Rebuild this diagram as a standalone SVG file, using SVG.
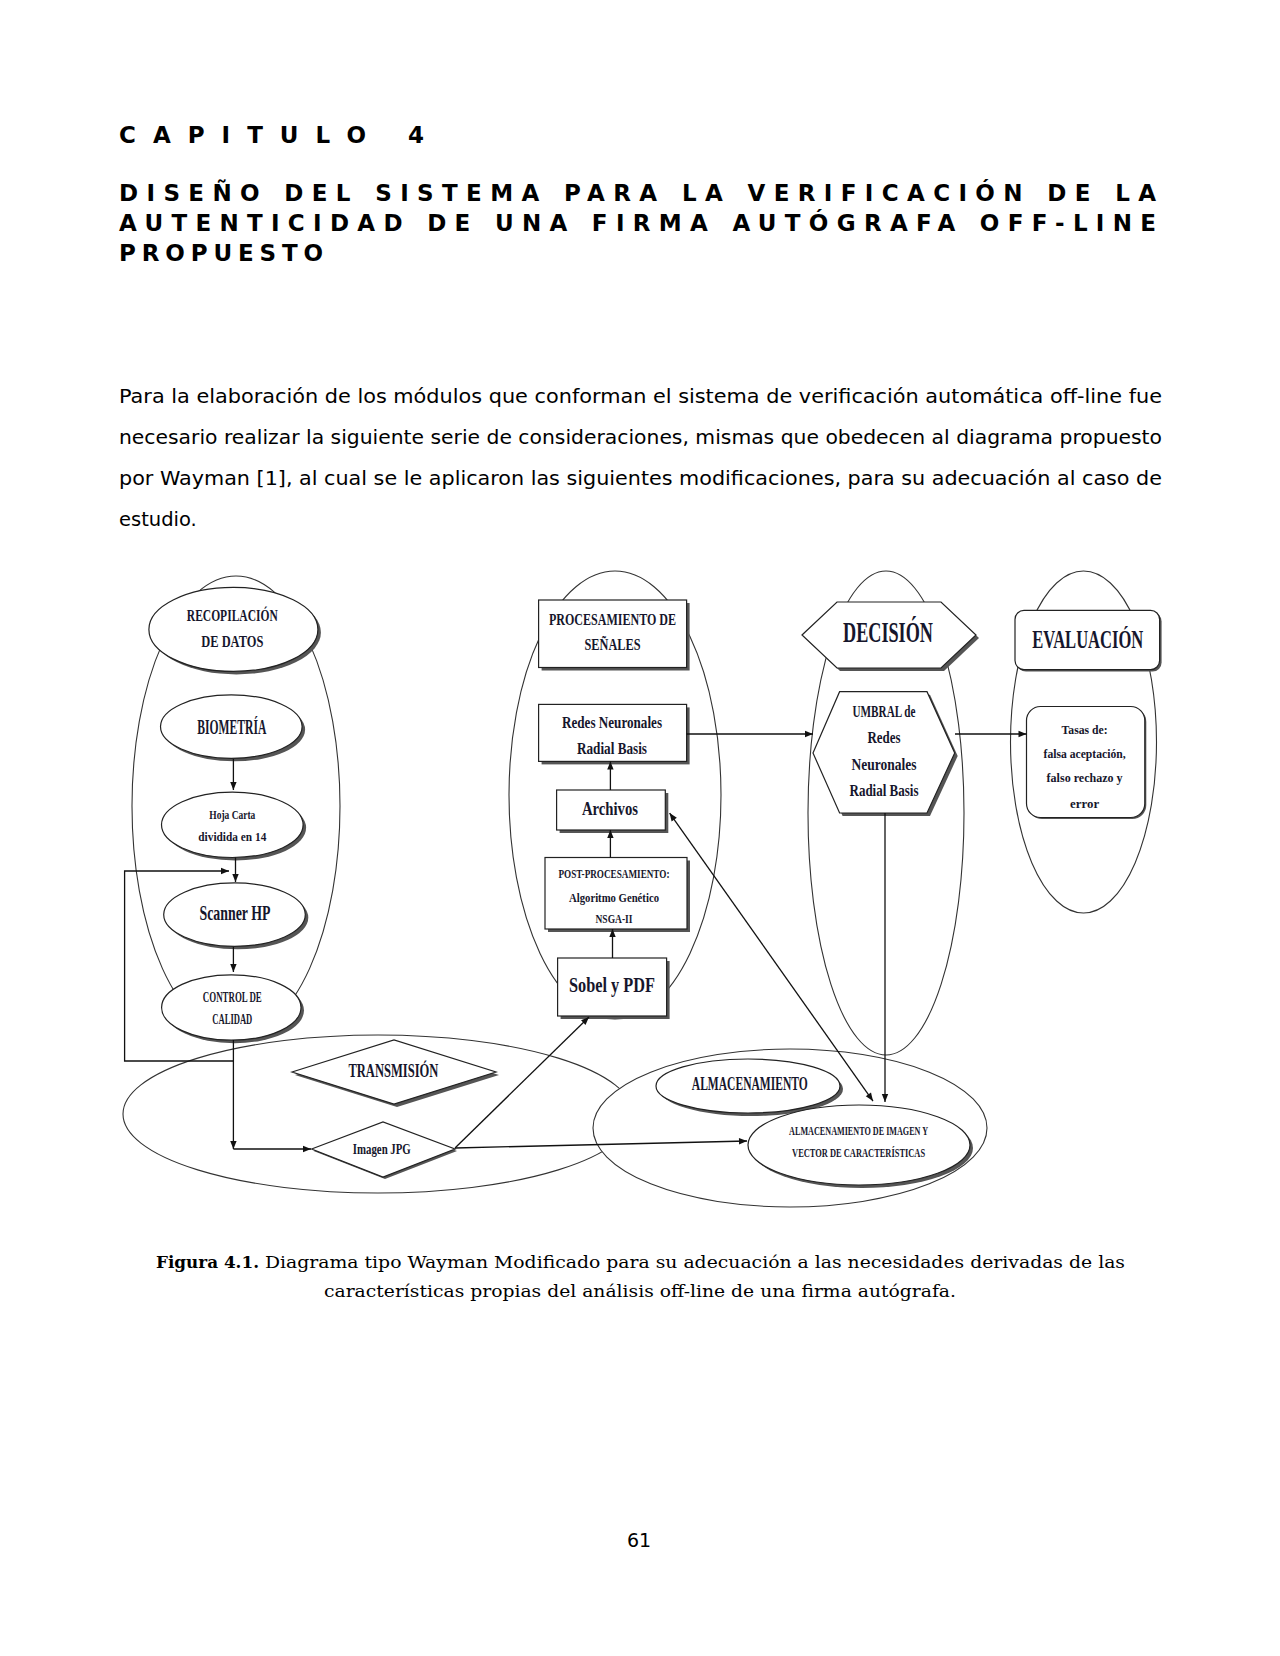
<svg xmlns="http://www.w3.org/2000/svg" width="1280" height="1656" viewBox="0 0 1280 1656">
<style>
.h{font-family:"DejaVu Sans",Verdana,sans-serif;font-weight:bold;font-size:23px;fill:#000}
.p{font-family:"DejaVu Sans",Tahoma,sans-serif;font-size:19.5px;fill:#000}
.cap{font-family:"DejaVu Serif","Liberation Serif",serif;font-size:17.5px;fill:#000}
.n{font-family:"Liberation Serif","Times New Roman",serif;font-weight:bold;fill:#16162c;text-anchor:middle}
.sh{fill:#555;stroke:none}
.s{fill:#fff;stroke:#222;stroke-width:1.2}
.o{fill:none;stroke:#333;stroke-width:1.1}
.ow{fill:#fff;stroke:#333;stroke-width:1.1}
.c{fill:none;stroke:#111;stroke-width:1.3}
</style>
<defs>
<marker id="ah" viewBox="0 0 10 10" refX="10" refY="5" markerWidth="9" markerHeight="8" markerUnits="userSpaceOnUse" orient="auto-start-reverse"><path d="M0,1 L10,5 L0,9 z" fill="#111"/></marker>
</defs>
<rect width="1280" height="1656" fill="#fff"/>

<g id="heading">
<text class="h" x="119" y="143" textLength="305" lengthAdjust="spacing">CAPITULO 4</text>
<text class="h" x="119" y="201" textLength="1037" lengthAdjust="spacing">DISEÑO DEL SISTEMA PARA LA VERIFICACIÓN DE LA</text>
<text class="h" x="119" y="231" textLength="1037" lengthAdjust="spacing">AUTENTICIDAD DE UNA FIRMA AUTÓGRAFA OFF-LINE</text>
<text class="h" x="119" y="261" textLength="204" lengthAdjust="spacing">PROPUESTO</text>
</g>

<g id="paragraph">
<text class="p" x="119" y="403" textLength="1043" lengthAdjust="spacingAndGlyphs">Para la elaboración de los módulos que conforman el sistema de verificación automática off-line fue</text>
<text class="p" x="119" y="444" textLength="1043" lengthAdjust="spacingAndGlyphs">necesario realizar la siguiente serie de consideraciones, mismas que obedecen al diagrama propuesto</text>
<text class="p" x="119" y="485" textLength="1043" lengthAdjust="spacingAndGlyphs">por Wayman [1], al cual se le aplicaron las siguientes modificaciones, para su adecuación al caso de</text>
<text class="p" x="119" y="526">estudio.</text>
</g>

<g id="containers">
<ellipse class="o" cx="236" cy="806" rx="104" ry="230"/>
<ellipse class="o" cx="615" cy="795" rx="106" ry="224"/>
<ellipse class="o" cx="1083.5" cy="742" rx="73" ry="171"/>
<ellipse class="o" cx="378" cy="1114" rx="255" ry="79"/>
<ellipse class="ow" cx="790" cy="1128" rx="197" ry="79"/>
<ellipse class="o" cx="886" cy="813" rx="78" ry="242"/>
</g>

<g id="recopilacion">
<ellipse class="sh" cx="236.4" cy="632.4" rx="84.5" ry="42"/>
<ellipse class="s" cx="233.4" cy="629.4" rx="84.5" ry="42"/>
<text class="n" x="232.3" y="621" font-size="17.5" textLength="91" lengthAdjust="spacingAndGlyphs">RECOPILACIÓN</text>
<text class="n" x="232.3" y="647" font-size="17.5" textLength="62" lengthAdjust="spacingAndGlyphs">DE DATOS</text>
</g>
<g id="biometria">
<ellipse class="sh" cx="234.3" cy="729.6" rx="70.8" ry="31.7"/>
<ellipse class="s" cx="231.3" cy="726.6" rx="70.8" ry="31.7"/>
<text class="n" x="231.8" y="734" font-size="21" textLength="69" lengthAdjust="spacingAndGlyphs">BIOMETRÍA</text>
</g>
<g id="hoja">
<ellipse class="sh" cx="235.3" cy="827.8" rx="70.8" ry="32.7"/>
<ellipse class="s" cx="232.3" cy="824.8" rx="70.8" ry="32.7"/>
<text class="n" x="232.3" y="818.5" font-size="13.5" textLength="46" lengthAdjust="spacingAndGlyphs">Hoja Carta</text>
<text class="n" x="232.3" y="840.5" font-size="13.5" textLength="68" lengthAdjust="spacingAndGlyphs">dividida en 14</text>
</g>
<g id="scanner">
<ellipse class="sh" cx="237.5" cy="917.6" rx="70.8" ry="31.7"/>
<ellipse class="s" cx="234.5" cy="914.6" rx="70.8" ry="31.7"/>
<text class="n" x="235" y="920" font-size="21" textLength="71" lengthAdjust="spacingAndGlyphs">Scanner HP</text>
</g>
<g id="control">
<ellipse class="sh" cx="234.3" cy="1010.5" rx="69.7" ry="32.7"/>
<ellipse class="s" cx="231.3" cy="1007.5" rx="69.7" ry="32.7"/>
<text class="n" x="232.3" y="1001.5" font-size="14" textLength="59" lengthAdjust="spacingAndGlyphs">CONTROL DE</text>
<text class="n" x="232.3" y="1023.5" font-size="14" textLength="40" lengthAdjust="spacingAndGlyphs">CALIDAD</text>
</g>
<g id="transmision">
<polygon class="sh" points="295,1075 397,1043 499,1075 397,1107"/>
<polygon class="s" points="292,1072 394,1040 496,1072 394,1104"/>
<text class="n" x="393.4" y="1077" font-size="18" textLength="90" lengthAdjust="spacingAndGlyphs">TRANSMISIÓN</text>
</g>
<g id="imagenjpg">
<polygon class="sh" points="313.6,1151 385,1124 457,1151 385,1179"/>
<polygon class="s" points="311.6,1149 383,1122 455,1149 383,1177"/>
<text class="n" x="381.8" y="1153.5" font-size="14" textLength="58" lengthAdjust="spacingAndGlyphs">Imagen JPG</text>
</g>
<g id="almacenamiento">
<ellipse class="sh" cx="751" cy="1089" rx="92" ry="27"/>
<ellipse class="s" cx="748" cy="1086" rx="92" ry="27"/>
<text class="n" x="749.8" y="1090" font-size="18" textLength="116" lengthAdjust="spacingAndGlyphs">ALMACENAMIENTO</text>
</g>
<g id="almac-imagen">
<ellipse class="sh" cx="862" cy="1148" rx="111" ry="40"/>
<ellipse class="s" cx="859" cy="1145" rx="111" ry="40"/>
<text class="n" x="858.6" y="1134.5" font-size="13" textLength="139" lengthAdjust="spacingAndGlyphs">ALMACENAMIENTO DE IMAGEN Y</text>
<text class="n" x="858.6" y="1156.5" font-size="13" textLength="133" lengthAdjust="spacingAndGlyphs">VECTOR DE CARACTERÍSTICAS</text>
</g>
<g id="procesamiento">
<rect class="sh" x="541.6" y="603" width="148" height="67.5"/>
<rect class="s" x="538.6" y="600" width="148" height="67.5"/>
<text class="n" x="612.5" y="624.5" font-size="17" textLength="127" lengthAdjust="spacingAndGlyphs">PROCESAMIENTO DE</text>
<text class="n" x="612.5" y="649.5" font-size="17" textLength="56" lengthAdjust="spacingAndGlyphs">SEÑALES</text>
</g>
<g id="redes">
<rect class="sh" x="541.6" y="707.4" width="148" height="57"/>
<rect class="s" x="538.6" y="704.4" width="148" height="57"/>
<text class="n" x="612" y="727.5" font-size="17" textLength="100" lengthAdjust="spacingAndGlyphs">Redes Neuronales</text>
<text class="n" x="612" y="753.5" font-size="17" textLength="70" lengthAdjust="spacingAndGlyphs">Radial Basis</text>
</g>
<g id="archivos">
<rect class="sh" x="559.6" y="793" width="108.7" height="40"/>
<rect class="s" x="556.6" y="790" width="108.7" height="40"/>
<text class="n" x="610" y="815" font-size="19" textLength="56" lengthAdjust="spacingAndGlyphs">Archivos</text>
</g>
<g id="post">
<rect class="sh" x="548" y="860.5" width="142" height="71.5"/>
<rect class="s" x="545" y="857.5" width="142" height="71.5"/>
<text class="n" x="614" y="877.5" font-size="13.5" textLength="111" lengthAdjust="spacingAndGlyphs">POST-PROCESAMIENTO:</text>
<text class="n" x="614" y="901.5" font-size="13" textLength="90" lengthAdjust="spacingAndGlyphs">Algoritmo Genético</text>
<text class="n" x="614" y="922.5" font-size="13" textLength="37" lengthAdjust="spacingAndGlyphs">NSGA-II</text>
</g>
<g id="sobel">
<rect class="sh" x="560.6" y="961" width="109" height="58"/>
<rect class="s" x="557.6" y="958" width="109" height="58"/>
<text class="n" x="612" y="992" font-size="22" textLength="86" lengthAdjust="spacingAndGlyphs">Sobel y PDF</text>
</g>
<g id="decision">
<polygon class="sh" points="805,638 840,605 944,605 979,638 944,671 840,671"/>
<polygon class="s" points="802,635 837,602 941,602 976,635 941,668 837,668"/>
<text class="n" x="888" y="642" font-size="30" textLength="90" lengthAdjust="spacingAndGlyphs">DECISIÓN</text>
</g>
<g id="umbral">
<polygon class="sh" points="816,756 842.6,694.7 930,694.7 957.7,756 930,816 842.6,816"/>
<polygon class="s" points="813,753 839.6,691.7 927,691.7 954.7,753 927,813 839.6,813"/>
<text class="n" x="884" y="717" font-size="16" textLength="63" lengthAdjust="spacingAndGlyphs">UMBRAL de</text>
<text class="n" x="884" y="743" font-size="16" textLength="33" lengthAdjust="spacingAndGlyphs">Redes</text>
<text class="n" x="884" y="770" font-size="16" textLength="65" lengthAdjust="spacingAndGlyphs">Neuronales</text>
<text class="n" x="884" y="796" font-size="16" textLength="69" lengthAdjust="spacingAndGlyphs">Radial Basis</text>
</g>
<g id="evaluacion">
<rect class="sh" x="1017" y="612.4" width="144.6" height="59.2" rx="9"/>
<rect class="s" x="1015" y="610.4" width="144.6" height="59.2" rx="9"/>
<text class="n" x="1087.8" y="647.5" font-size="26" textLength="111" lengthAdjust="spacingAndGlyphs">EVALUACIÓN</text>
</g>
<g id="tasas">
<rect class="sh" x="1028" y="708" width="118.3" height="111" rx="14"/>
<rect class="s" x="1026.5" y="706.5" width="118.3" height="111" rx="14"/>
<text class="n" x="1084.6" y="733.5" font-size="13" textLength="46" lengthAdjust="spacingAndGlyphs">Tasas de:</text>
<text class="n" x="1084.6" y="757.5" font-size="13" textLength="82" lengthAdjust="spacingAndGlyphs">falsa aceptación,</text>
<text class="n" x="1084.6" y="781.5" font-size="13" textLength="76" lengthAdjust="spacingAndGlyphs">falso rechazo y</text>
<text class="n" x="1084.6" y="807.5" font-size="13" textLength="29" lengthAdjust="spacingAndGlyphs">error</text>
</g>

<g id="connectors">
<path class="c" d="M233.4 759 V790" marker-end="url(#ah)"/>
<path class="c" d="M235.5 857.5 V882" stroke-width="2" marker-end="url(#ah)"/>
<path class="c" d="M233.4 947 V972" marker-end="url(#ah)"/>
<path class="c" d="M233.4 1061 H124.6 V871 H229" stroke-width="1.6" marker-end="url(#ah)"/>
<path class="c" d="M233.4 1040 V1149" marker-end="url(#ah)"/>
<path class="c" d="M233.4 1149 H311" marker-end="url(#ah)"/>
<path class="c" d="M455 1148 L589 1017" marker-end="url(#ah)"/>
<path class="c" d="M455 1148 L747 1141" marker-end="url(#ah)"/>
<path class="c" d="M612.5 958 V929" marker-end="url(#ah)"/>
<path class="c" d="M610.4 857.5 V830" marker-end="url(#ah)"/>
<path class="c" d="M610.4 790 V761.5" marker-end="url(#ah)"/>
<path class="c" d="M686.5 734 H813" marker-end="url(#ah)"/>
<path class="c" d="M873 1101 L669.6 813" marker-start="url(#ah)" marker-end="url(#ah)"/>
<path class="c" d="M885 813 V1102" stroke-width="2" marker-end="url(#ah)"/>
<path class="c" d="M955 734 H1026.5" marker-end="url(#ah)"/>
</g>

<g id="caption">
<text class="cap" x="156" y="1268" font-weight="bold" textLength="103" lengthAdjust="spacingAndGlyphs">Figura 4.1.</text>
<text class="cap" x="265" y="1268" textLength="860" lengthAdjust="spacingAndGlyphs">Diagrama tipo Wayman Modificado para su adecuación a las necesidades derivadas de las</text>
<text class="cap" x="324" y="1297" textLength="632" lengthAdjust="spacingAndGlyphs">características propias del análisis off-line de una firma autógrafa.</text>
</g>
<text x="639" y="1547" font-family="DejaVu Sans, sans-serif" font-size="19" text-anchor="middle">61</text>
</svg>
